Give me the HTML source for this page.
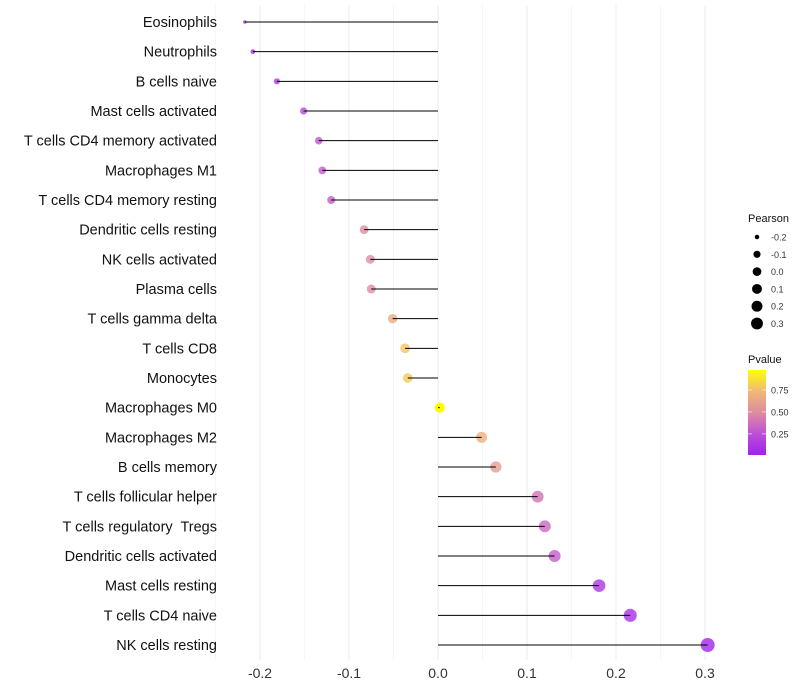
<!DOCTYPE html>
<html><head><meta charset="utf-8"><style>
body{margin:0;background:#fff}
svg{display:block;font-family:"Liberation Sans",sans-serif}
</style></head><body>
<svg id="c" width="800" height="700"></svg>
<script>
const categories=["Eosinophils","Neutrophils","B cells naive","Mast cells activated","T cells CD4 memory activated","Macrophages M1","T cells CD4 memory resting","Dendritic cells resting","NK cells activated","Plasma cells","T cells gamma delta","T cells CD8","Monocytes","Macrophages M0","Macrophages M2","B cells memory","T cells follicular helper","T cells regulatory  Tregs","Dendritic cells activated","Mast cells resting","T cells CD4 naive","NK cells resting"];
const pearson=[-0.217,-0.208,-0.181,-0.151,-0.134,-0.130,-0.120,-0.083,-0.076,-0.075,-0.051,-0.037,-0.034,0.002,0.049,0.065,0.112,0.120,0.131,0.181,0.216,0.303];
const pvalues=[0.03,0.07,0.12,0.22,0.28,0.28,0.3,0.5,0.5,0.5,0.68,0.8,0.82,0.99,0.7,0.6,0.4,0.35,0.3,0.12,0.08,0.02];
const xTicks=[-0.2,-0.1,0.0,0.1,0.2,0.3];
const xTickLabels=["-0.2","-0.1","0.0","0.1","0.2","0.3"];
const sizeLegend=[-0.2,-0.1,0.0,0.1,0.2,0.3];
const sizeLegendLabels=["-0.2","-0.1","0.0","0.1","0.2","0.3"];
const colorLegendTicks=[0.25,0.5,0.75];

const svg=document.getElementById('c');
const NS='http://www.w3.org/2000/svg';
function mk(t,a,p){const e=document.createElementNS(NS,t);for(const k in a)e.setAttribute(k,a[k]);(p||svg).appendChild(e);return e;}
const x=v=>438+v*890;
const y=i=>22+i*(623/(categories.length-1));
const r=v=>{const t=Math.max(0,(v+0.217)/0.52);return 1.7+5.3*Math.sqrt(t);};
const stops=[[0,[160,32,240]],[0.25,[190,80,215]],[0.5,[222,140,160]],[0.75,[240,184,120]],[1,[255,255,0]]];
function col(p){for(let i=1;i<stops.length;i++){if(p<=stops[i][0]){const a=stops[i-1],b=stops[i],t=(p-a[0])/(b[0]-a[0]);const c=a[1].map((v,k)=>Math.round(v+(b[1][k]-v)*t));return `rgb(${c})`;}}return 'rgb(255,255,0)';}

const grid=mk('g',{});


for(let v=-0.25;v<=0.301;v+=0.05){mk('line',{x1:x(v),x2:x(v),y1:5,y2:660,stroke:'#ebebeb','stroke-width':Math.abs(Math.round(v*20)%2)===0?1:0.5},grid);}
xTicks.forEach((v,i)=>{
 const t=mk('text',{x:x(v),y:678,'text-anchor':'middle','font-size':14,fill:'#333'});
 t.textContent=xTickLabels[i];
 
 
});
categories.forEach((c,i)=>{
 const t=mk('text',{x:217,y:y(i)+5,'text-anchor':'end','font-size':14.5,fill:'#111',style:'white-space:pre'});
 t.textContent=c;
 
 
 const d=mk('circle',{cx:x(pearson[i]),cy:y(i),r:r(pearson[i]),fill:col(pvalues[i]),'fill-opacity':pvalues[i]>0.95?1:0.8});
 
 
 const l=mk('line',{x1:x(0),x2:x(pearson[i]),y1:y(i),y2:y(i),stroke:'#000','stroke-width':1});
 
 
});
const sl=mk('g',{});


mk('text',{x:748,y:222,'font-size':11,fill:'#111'},sl).textContent='Pearson';
sizeLegend.forEach((v,i)=>{
 const cy=237+i*17.3;
 mk('circle',{cx:757,cy:cy,r:r(v)*0.85,fill:'#000'},sl);
 mk('text',{x:771,y:cy+3.5,'font-size':9,fill:'#333'},sl).textContent=sizeLegendLabels[i];
});
const cl=mk('g',{});


mk('text',{x:748,y:363,'font-size':11,fill:'#111'},cl).textContent='Pvalue';
const defs=mk('defs',{});
const lg=mk('linearGradient',{id:'g',x1:0,y1:1,x2:0,y2:0},defs);
stops.forEach(s=>mk('stop',{offset:s[0],'stop-color':col(s[0])},lg));
mk('rect',{x:748,y:370,width:18,height:85,fill:'url(#g)'},cl);
const py=p=>455-(p-0.01)*88;
colorLegendTicks.forEach(p=>{
 mk('line',{x1:748,x2:752,y1:py(p),y2:py(p),stroke:'#fff','stroke-opacity':0.6},cl);
 mk('line',{x1:762,x2:766,y1:py(p),y2:py(p),stroke:'#fff','stroke-opacity':0.6},cl);
 mk('text',{x:771,y:py(p)+3.5,'font-size':9,fill:'#333'},cl).textContent=p.toFixed(2);
});
</script>
</body></html>
